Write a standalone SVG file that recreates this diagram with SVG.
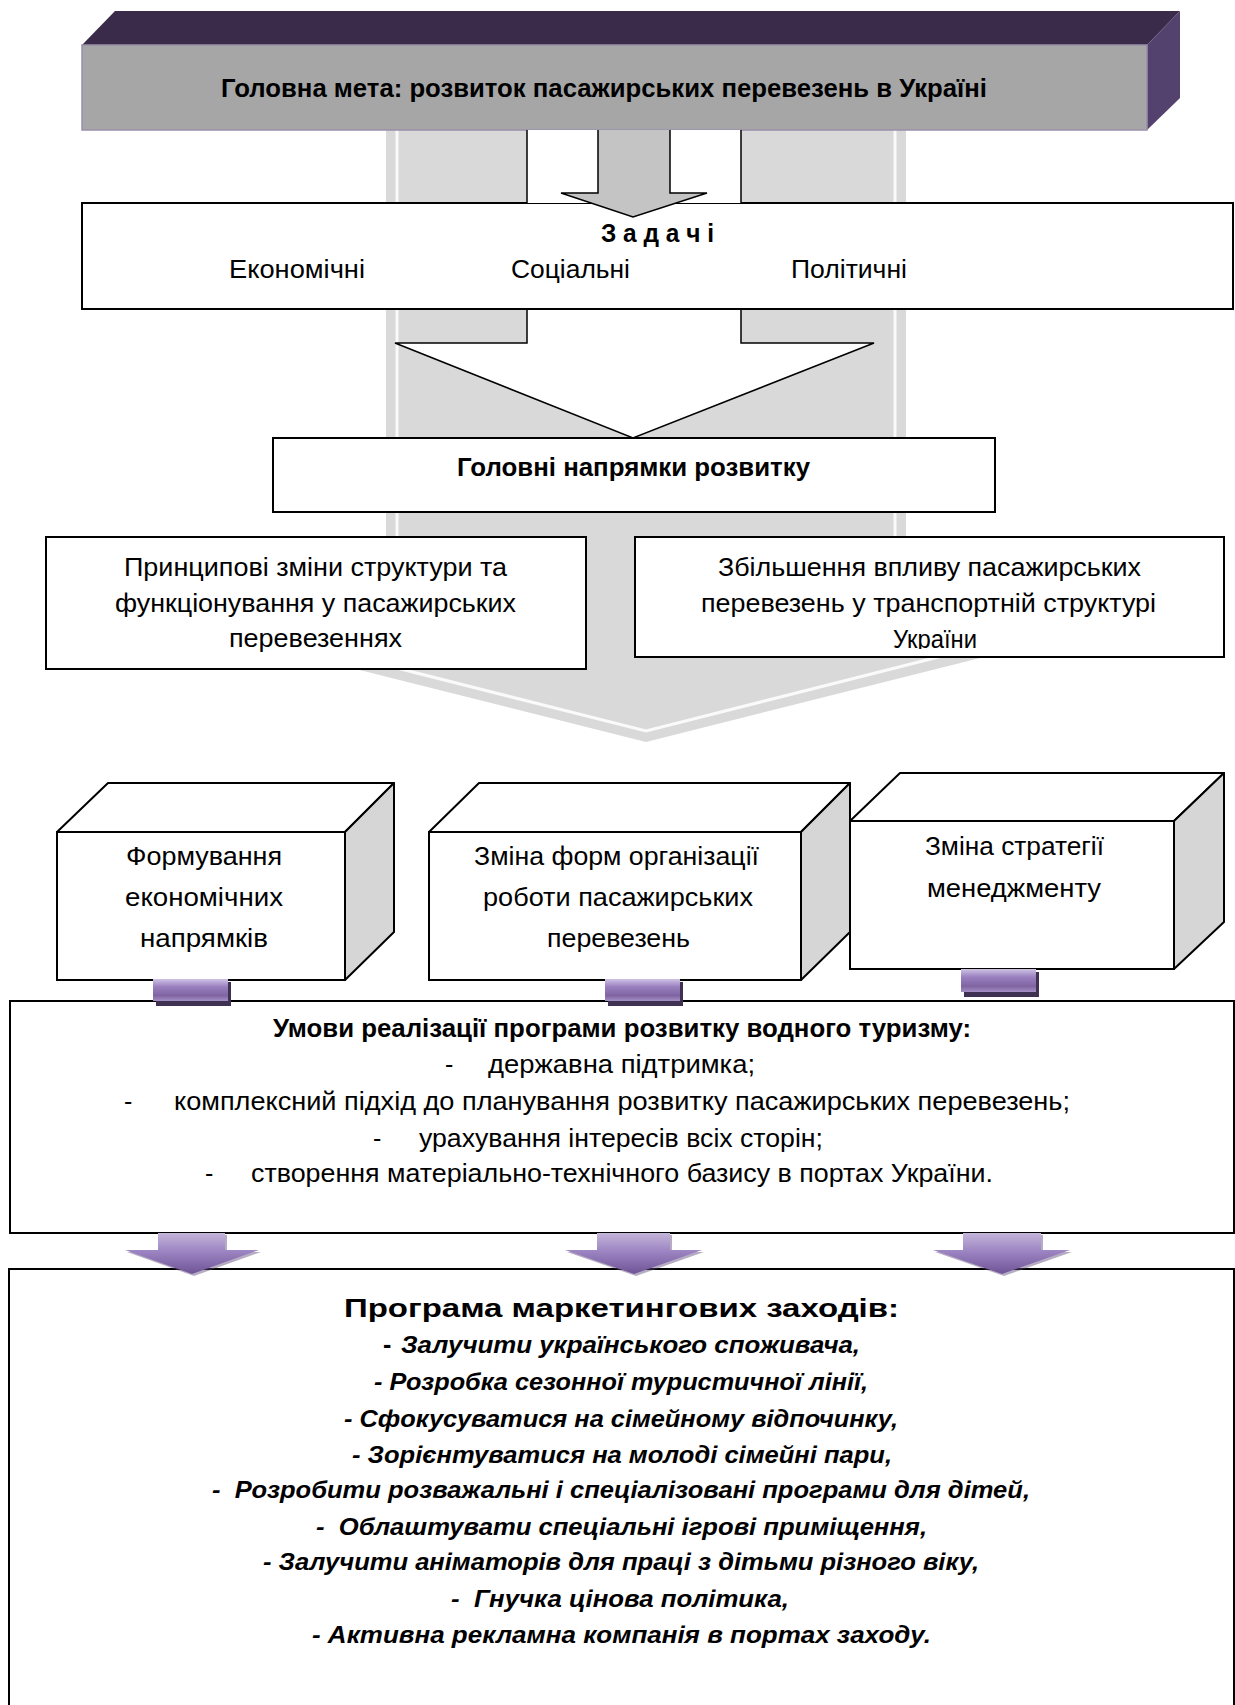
<svg xmlns="http://www.w3.org/2000/svg" width="1235" height="1705" viewBox="0 0 1235 1705">
<defs>
<style>
.t{font-family:"Liberation Sans",Arial,sans-serif;font-size:25px;fill:#000;white-space:pre}
.b{font-weight:bold}
.bi{font-weight:bold;font-style:italic;font-size:24px}
.box{fill:#fff;stroke:#000;stroke-width:2}
.side{fill:#d6d6d6;stroke:#000;stroke-width:2;stroke-linejoin:round}
.topf{fill:#fff;stroke:#000;stroke-width:2;stroke-linejoin:round}
.arrowline{stroke:#000;stroke-width:1.5;stroke-linejoin:miter}
.shadow{fill:#3f3151}
</style>
<linearGradient id="pg" x1="0" y1="0" x2="0" y2="1">
<stop offset="0" stop-color="#cfc3e3"/>
<stop offset="0.35" stop-color="#9a80c0"/>
<stop offset="0.75" stop-color="#8064a2"/>
<stop offset="1" stop-color="#a48fc4"/>
</linearGradient>
<linearGradient id="pa" x1="0" y1="0" x2="0" y2="1">
<stop offset="0" stop-color="#c3b5da"/>
<stop offset="0.45" stop-color="#9c84c2"/>
<stop offset="1" stop-color="#6f5496"/>
</linearGradient>
<clipPath id="clipZb"><rect x="636" y="538" width="587" height="111"/></clipPath>
</defs>
<rect x="0" y="0" width="1235" height="1705" fill="#fff"/>

<g id="backdrop-arrow">
<polygon points="386,100 906,100 906,648 1020,648 646,742 272,648 386,648" fill="#d9d9d9"/>
<polyline points="397,100 397,645 306,645 646,731 986,645 895,645 895,100" fill="none" stroke="#fafafa" stroke-width="3"/>
</g>

<g id="node-goal">
<polygon points="82,45 115,11 1180,11 1147,45" fill="#3b2b4a"/>
<polygon points="1147,45 1180,11 1180,98 1147,130" fill="#54426e"/>
<rect x="82" y="45" width="1065" height="85" fill="#a6a6a6" stroke="#9890a8" stroke-width="1.5"/>
<text class="t b" x="221" y="97" textLength="766" lengthAdjust="spacingAndGlyphs">Головна мета: розвиток пасажирських перевезень в Україні</text>
</g>

<g id="node-tasks">
<rect class="box" x="82" y="203" width="1151" height="106"/>
<text class="t b" x="601" y="242" font-size="24" textLength="113" lengthAdjust="spacingAndGlyphs">З а д а ч і</text>
<text class="t" x="229" y="278" font-size="24" textLength="136" lengthAdjust="spacingAndGlyphs">Економічні</text>
<text class="t" x="511" y="278" font-size="24" textLength="119" lengthAdjust="spacingAndGlyphs">Соціальні</text>
<text class="t" x="791" y="278" font-size="24" textLength="116" lengthAdjust="spacingAndGlyphs">Політичні</text>
</g>

<g id="node-directions">
<rect class="box" x="273" y="438" width="722" height="74"/>
<text class="t b" x="457" y="476" font-size="24" textLength="353" lengthAdjust="spacingAndGlyphs">Головні напрямки розвитку</text>
</g>

<g id="node-principal">
<rect class="box" x="46" y="537" width="540" height="132"/>
<text class="t" x="124" y="576" textLength="383" lengthAdjust="spacingAndGlyphs">Принципові зміни структури та</text>
<text class="t" x="115" y="612" textLength="401" lengthAdjust="spacingAndGlyphs">функціонування у пасажирських</text>
<text class="t" x="229" y="647" textLength="173" lengthAdjust="spacingAndGlyphs">перевезеннях</text>
</g>

<g id="node-influence">
<rect class="box" x="635" y="537" width="589" height="120"/>
<text class="t" x="718" y="576" textLength="423" lengthAdjust="spacingAndGlyphs">Збільшення впливу пасажирських</text>
<text class="t" x="701" y="612" textLength="455" lengthAdjust="spacingAndGlyphs">перевезень у транспортній структурі</text>
<text class="t" x="893" y="648" textLength="84" lengthAdjust="spacingAndGlyphs" clip-path="url(#clipZb)">України</text>
</g>

<g id="node-economic">
<polygon class="topf" points="57,832 108,783 394,783 345,832"/>
<polygon class="side" points="345,832 394,783 394,932 345,980"/>
<rect class="box" x="57" y="832" width="288" height="148"/>
<text class="t" x="126" y="865" font-size="26" textLength="156" lengthAdjust="spacingAndGlyphs">Формування</text>
<text class="t" x="125" y="906" font-size="26" textLength="158" lengthAdjust="spacingAndGlyphs">економічних</text>
<text class="t" x="140" y="947" font-size="26" textLength="128" lengthAdjust="spacingAndGlyphs">напрямків</text>
</g>

<g id="node-forms">
<polygon class="topf" points="429,832 479,783 850,783 801,832"/>
<polygon class="side" points="801,832 850,783 850,932 801,980"/>
<rect class="box" x="429" y="832" width="372" height="148"/>
<text class="t" x="474" y="865" font-size="26" textLength="285" lengthAdjust="spacingAndGlyphs">Зміна форм організації</text>
<text class="t" x="483" y="906" font-size="26" textLength="270" lengthAdjust="spacingAndGlyphs">роботи пасажирських</text>
<text class="t" x="547" y="947" font-size="26" textLength="143" lengthAdjust="spacingAndGlyphs">перевезень</text>
</g>

<g id="node-strategy">
<polygon class="topf" points="850,821 900,773 1224,773 1174,821"/>
<polygon class="side" points="1174,821 1224,773 1224,922 1174,969"/>
<rect class="box" x="850" y="821" width="324" height="148"/>
<text class="t" x="925" y="855" font-size="26" textLength="179" lengthAdjust="spacingAndGlyphs">Зміна стратегії</text>
<text class="t" x="927" y="897" font-size="26" textLength="174" lengthAdjust="spacingAndGlyphs">менеджменту</text>
</g>

<g id="node-conditions">
<rect class="box" x="10" y="1001" width="1224" height="232"/>
<text class="t b" x="273" y="1037" font-size="24" textLength="698" lengthAdjust="spacingAndGlyphs">Умови реалізації програми розвитку водного туризму:</text>
<text class="t" x="445" y="1073" font-size="24">-</text>
<text class="t" x="488" y="1073" font-size="24" textLength="267" lengthAdjust="spacingAndGlyphs">державна підтримка;</text>
<text class="t" x="124" y="1110" font-size="24">-</text>
<text class="t" x="174" y="1110" font-size="24" textLength="896" lengthAdjust="spacingAndGlyphs">комплексний підхід до планування розвитку пасажирських перевезень;</text>
<text class="t" x="373" y="1147" font-size="24">-</text>
<text class="t" x="419" y="1147" font-size="24" textLength="404" lengthAdjust="spacingAndGlyphs">урахування інтересів всіх сторін;</text>
<text class="t" x="205" y="1182" font-size="24">-</text>
<text class="t" x="251" y="1182" font-size="24" textLength="742" lengthAdjust="spacingAndGlyphs">створення матеріально-технічного базису в портах України.</text>
</g>

<g id="node-program">
<rect class="box" x="9" y="1269" width="1225" height="460"/>
<text class="t b" x="344" y="1317" font-size="29" textLength="555" lengthAdjust="spacingAndGlyphs">Програма маркетингових заходів:</text>
<text class="t b" x="383" y="1353" font-size="28">-</text>
<text class="t bi" x="401" y="1353" textLength="459" lengthAdjust="spacingAndGlyphs">Залучити українського споживача,</text>
<text class="t bi" x="374" y="1390" textLength="494" lengthAdjust="spacingAndGlyphs">- Розробка сезонної туристичної лінії,</text>
<text class="t bi" x="344" y="1427" textLength="554" lengthAdjust="spacingAndGlyphs">- Сфокусуватися на сімейному відпочинку,</text>
<text class="t bi" x="352" y="1463" textLength="540" lengthAdjust="spacingAndGlyphs">- Зорієнтуватися на молоді сімейні пари,</text>
<text class="t bi" x="212" y="1498" textLength="818" lengthAdjust="spacingAndGlyphs">-  Розробити розважальні і спеціалізовані програми для дітей,</text>
<text class="t bi" x="316" y="1535" textLength="611" lengthAdjust="spacingAndGlyphs">-  Облаштувати спеціальні ігрові приміщення,</text>
<text class="t bi" x="263" y="1570" textLength="716" lengthAdjust="spacingAndGlyphs">- Залучити аніматорів для праці з дітьми різного віку,</text>
<text class="t bi" x="451" y="1607" textLength="338" lengthAdjust="spacingAndGlyphs">-  Гнучка цінова політика,</text>
<text class="t bi" x="312" y="1643" textLength="619" lengthAdjust="spacingAndGlyphs">- Активна рекламна компанія в портах заходу.</text>
</g>

<g id="connectors">
<g id="arrow-white">
<rect x="527" y="130" width="214" height="73" fill="#fff"/>
<line class="arrowline" x1="527" y1="130" x2="527" y2="203"/>
<line class="arrowline" x1="741" y1="130" x2="741" y2="203"/>
<path class="arrowline" d="M527,310 V343 H395 L633,438 L874,343 H741 V310" fill="#fff"/>
</g>
<g id="arrow-grey">
<path class="arrowline" d="M598,130 V193 H561 L633,217 L707,193 H670 V130" fill="#c4c4c4"/>
</g>
<g id="conn-purple">
<rect class="shadow" x="156" y="982" width="75" height="24"/>
<rect x="153" y="979" width="75" height="22" fill="url(#pg)"/>
<rect class="shadow" x="608" y="982" width="75" height="24"/>
<rect x="605" y="979" width="75" height="22" fill="url(#pg)"/>
<rect class="shadow" x="964" y="972" width="75" height="25"/>
<rect x="961" y="969" width="75" height="23" fill="url(#pg)"/>
</g>
<g id="arrows-purple">
<polygon points="160,1235 227,1235 227,1252 261,1252 194,1276 127,1252 160,1252" fill="#5f497a" opacity="0.45"/>
<polygon points="158,1233 225,1233 225,1250 259,1250 192,1274 125,1250 158,1250" fill="url(#pa)"/>
<polygon points="599,1235 672,1235 672,1252 704,1252 636,1276 567,1252 599,1252" fill="#5f497a" opacity="0.45"/>
<polygon points="597,1233 670,1233 670,1250 702,1250 634,1274 565,1250 597,1250" fill="url(#pa)"/>
<polygon points="965,1235 1043,1235 1043,1252 1072,1252 1004,1276 935,1252 965,1252" fill="#5f497a" opacity="0.45"/>
<polygon points="963,1233 1041,1233 1041,1250 1070,1250 1002,1274 933,1250 963,1250" fill="url(#pa)"/>
</g>
</g>
</svg>
